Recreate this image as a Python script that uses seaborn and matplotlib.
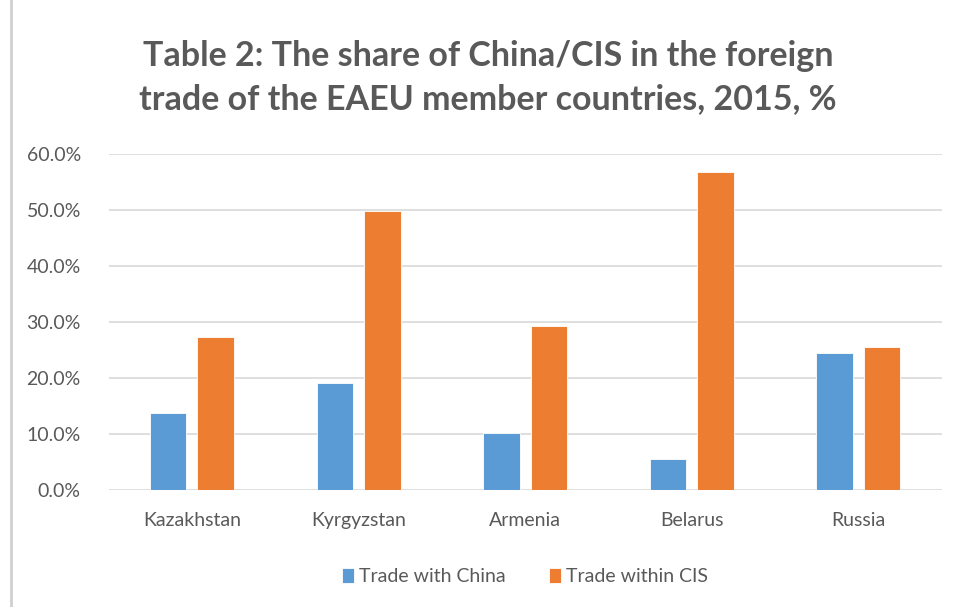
import numpy as np
import pandas as pd
import seaborn as sns
import matplotlib.pyplot as plt
from matplotlib.ticker import PercentFormatter

sns.set_style("white")
plt.rcParams['font.family'] = ['Lato', 'DejaVu Sans']

# values (%)
countries = ["Kazakhstan", "Kyrgyzstan", "Armenia", "Belarus", "Russia"]
trade_china = [13.8, 19.1, 10.1, 5.6, 24.4]
trade_cis = [27.4, 49.8, 29.2, 56.9, 25.5]
series_names = ["Trade with China", "Trade within CIS"]

df = pd.DataFrame({
    "country": countries * 2,
    "share": trade_china + trade_cis,
    "series": [series_names[0]] * len(countries) + [series_names[1]] * len(countries),
})

text_col = "#595959"
fig = plt.figure(figsize=(9.61, 6.07), dpi=100)
ax = fig.add_axes([0.113, 0.193, 0.867, 0.553])

sns.barplot(data=df, x="country", y="share", hue="series",
            palette=["#5B9BD5", "#ED7D31"], saturation=1, width=0.57, gap=0.23,
            edgecolor="white", linewidth=0.6, ax=ax, zorder=3)

ax.set_ylim(0, 60)
ax.set_yticks(np.arange(0, 61, 10))
ax.yaxis.set_major_formatter(PercentFormatter(decimals=1))
ax.grid(axis="y", color="#D9D9D9", linewidth=1.2, zorder=0)
ax.set_axisbelow(True)
for s in ax.spines.values():
    s.set_visible(False)
ax.set_xlabel("")
ax.set_ylabel("")
ax.tick_params(axis="both", length=0, labelsize=14, colors=text_col)
ax.tick_params(axis="x", pad=16)
ax.tick_params(axis="y", pad=20)

fig.text(0.508, 0.872, "Table 2: The share of China/CIS in the foreign\ntrade of the EAEU member countries, 2015, %",
         ha="center", va="center", fontsize=24.5, fontweight="bold", color=text_col,
         linespacing=1.45)

ax.legend(loc="upper center", bbox_to_anchor=(0.5, -0.18), ncol=2, frameon=False,
          fontsize=14, labelcolor=text_col, handlelength=0.6, handleheight=0.8,
          handletextpad=0.3, columnspacing=2.2)

# left frame line like the original screenshot
fig.add_artist(plt.Line2D([0.011, 0.011], [0, 1], color="#D0D0D0", linewidth=2))

fig.savefig("out.png", dpi=100)
